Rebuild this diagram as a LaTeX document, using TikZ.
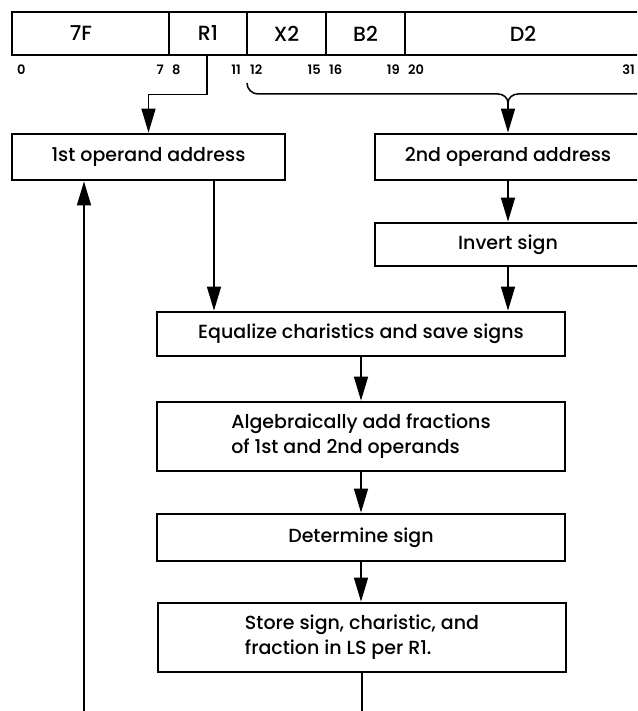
\documentclass[tikz,border=0pt]{standalone}
\usepackage{fontspec}
\setmainfont{Poppins Medium}[BoldFont=Poppins SemiBold]
\usetikzlibrary{arrows.meta}
\begin{document}
\begin{tikzpicture}[x=1pt,y=-1pt,
  box/.style={draw,line width=2.8pt,rectangle,inner sep=0pt,font=\fontsize{19}{25}\selectfont},
  field/.style={draw,line width=2.6pt,rectangle,inner sep=0pt,minimum height=43pt,font=\fontsize{20.5}{24}\selectfont},
  bitno/.style={inner sep=0pt,font=\fontsize{13}{15}\selectfont\bfseries},
  conn/.style={line width=1.5pt},
  arr/.style={-{Triangle[length=24pt,width=14pt]}}]
\useasboundingbox (0,0) rectangle (637,711);
\clip (0,0) rectangle (637,711);

% instruction format fields
\node[field,minimum width=157pt] (f7f) at (90.5,33.5) {};
\node at (81,33.5) [font=\fontsize{20.5}{24}\selectfont] {7F};
\node[field,minimum width=78pt]  (r1)  at (208,33.5)   {R1};
\node[field,minimum width=79pt]  (x2)  at (286.5,33.5) {X2};
\node[field,minimum width=79pt]  (b2)  at (365.5,33.5) {B2};
\node[field,minimum width=236pt] (d2)  at (523,33.5)   {D2};

% bit positions
\node[bitno,anchor=west] (n0)  at (17,70)  {0};
\node[bitno,anchor=east] (n7)  at (164,70) {7};
\node[bitno,anchor=west] (n8)  at (172,70) {8};
\node[bitno,anchor=east] (n11) at (241,70) {11};
\node[bitno,anchor=west] (n12) at (250,70) {12};
\node[bitno,anchor=east] (n15) at (321,70) {15};
\node[bitno,anchor=west] (n16) at (329,70) {16};
\node[bitno,anchor=east] (n19) at (400,70) {19};
\node[bitno,anchor=west] (n20) at (408,70) {20};
\node[bitno,anchor=east] (n31) at (635,70) {31};

% flowchart boxes
\node[box,minimum width=273pt,minimum height=46pt] (op1) at (148.5,157) {1st operand address};
\node[box,minimum width=266pt,minimum height=46pt] (op2) at (508,157) {2nd operand address};
\node[box,minimum width=266pt,minimum height=43pt] (inv) at (508,244.5) {Invert sign};
\node[box,minimum width=408pt,minimum height=44pt] (eq)  at (361,334) {Equalize charistics and save signs};
\node[box,minimum width=408pt,minimum height=69pt,align=left] (alg) at (361,436.5)
  {Algebraically add fractions\\of 1st and 2nd operands};
\node[box,minimum width=408pt,minimum height=47pt] (det) at (361,537.5) {Determine sign};
\node[box,minimum width=408pt,minimum height=69pt,align=left] (sto) at (362,637.5)
  {Store sign, charistic, and\\fraction in LS per R1.};

% brace gathering bits 12-31
\coordinate (bs) at (247,83);
\coordinate (be) at (641,94);
\coordinate (bt) at (508,103);
\coordinate (fb) at (84,711);

% connectors
\draw[conn,arr] ([xshift=-1pt]r1.south) -- ++(0,38) -| (op1.north);
\draw[conn] (bs) to[out=-90,in=180] (258,94) -- (498,94) to[out=0,in=90] (bt);
\draw[conn] (be) -- (518,94) to[out=180,in=90] (bt);
\draw[conn,arr] (bt) -- (op2.north);
\draw[conn,arr] (op2) -- (inv);
\draw[conn,arr] ([xshift=65.5pt]op1.south) -- ([xshift=65.5pt]op1.south |- eq.north);
\draw[conn,arr] (inv.south) -- (inv.south |- eq.north);
\draw[conn,arr] (eq) -- (eq |- alg.north);
\draw[conn,arr] (alg) -- (alg |- det.north);
\draw[conn,arr] (det) -- (det |- sto.north);
\draw[conn] (sto.south) -- (sto.south |- fb);
\draw[conn,arr] (fb) -- (fb |- op1.south);
\end{tikzpicture}
\end{document}
